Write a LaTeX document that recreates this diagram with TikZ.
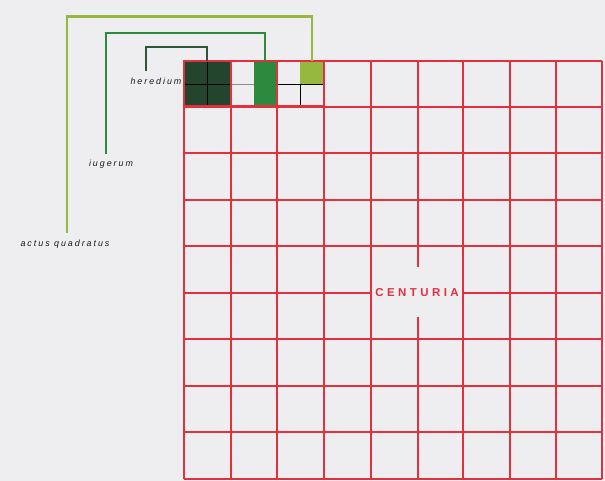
\documentclass[tikz,border=0pt]{standalone}
\usepackage{fontspec}
\setsansfont{Liberation Sans}
\newfontfamily\landfont[LetterSpace=22]{Liberation Sans}
\newfontfamily\centfont[LetterSpace=30]{Liberation Sans}
\usetikzlibrary{positioning}
\definecolor{paper}{HTML}{EEEEF0}
\definecolor{centred}{HTML}{E2303C}
\definecolor{heredgreen}{HTML}{24452D}
\definecolor{heredline}{HTML}{2E5738}
\definecolor{iugergreen}{HTML}{2B8A3E}
\definecolor{actusgreen}{HTML}{96B83E}
\tikzset{
    cell/.style={draw=centred, line width=1.3pt},
    block/.style={draw=centred, line width=2.1pt},
    bracket/.style={line width=2.3pt},
    quarter/.style={line width=0.8pt, draw=black},
    land/.style={font=\landfont\itshape\fontsize{7.6}{9}\selectfont,
                 text=black!90, inner sep=1pt},
    cent/.style={font=\centfont\bfseries\fontsize{9.8}{11}\selectfont,
                 text=centred, inner sep=1pt},
}

\begin{document}
\begin{tikzpicture}[x=0.03cm, y=-0.03cm]

    \fill[paper] (0,0) rectangle (605,481);
    \useasboundingbox (0,0) rectangle (605,481);

    % filled parts of the first row
    \fill[heredgreen] (184,61) rectangle (231,106);
    \fill[iugergreen] (254,61) rectangle (277,106);
    \fill[actusgreen] (300,61) rectangle (324,84);

    % quarters
    \draw[quarter] (184,84) -- (231,84);
    \draw[quarter, draw=black!45] (231,84) -- (254,84);
    \draw[quarter] (277,84) -- (324,84);
    \draw[quarter] (207,61) -- (207,106);
    \draw[quarter] (300,84) -- (300,106);

    % centuria grid, 9 x 9 actus
    \foreach \p in {184,231,277,324,371,463,510,556,602}
        \draw[cell] (\p,61) -- (\p,479);
    \draw[cell] (418,61) -- (418,267);
    \draw[cell] (418,317) -- (418,479);
    \foreach \q in {61,107,153,200,246,339,386,432,479}
        \draw[cell] (184,\q) -- (602,\q);
    \draw[cell] (184,293) -- (371,293);
    \draw[cell] (463,293) -- (602,293);
    \draw[block] (184,61) rectangle (324,106);
    \draw[block] (231,61) -- (231,106);
    \draw[block] (277,61) -- (277,106);

    % brackets
    \draw[bracket, draw=actusgreen] (67,233) |- (312,16.5) -- (312,61);
    \draw[bracket, draw=iugergreen] (106,154) |- (265,33) -- (265,61);
    \draw[bracket, draw=heredline] (146,71) |- (207,47) -- (207,61);

    \node[land] (heredium) at (156,81) {heredium};
    \node[land] (iugerum) at (111,164) {iugerum};
    \node[land] (actus) at (65,244) {actus quadratus};
    \node[cent] (centuria) at (417,293) {CENTURIA};

\end{tikzpicture}
\end{document}
